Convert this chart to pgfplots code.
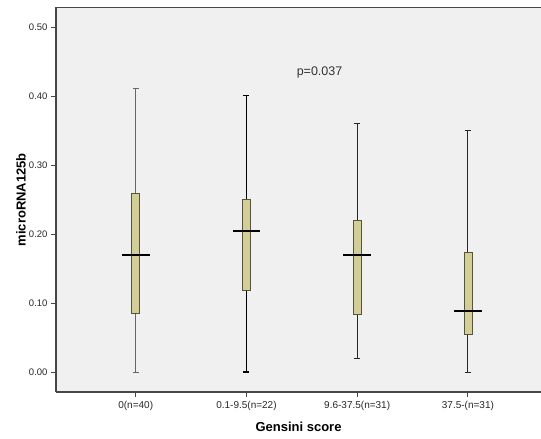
\documentclass[border=0pt]{standalone}
\usepackage{fontspec}
\setmainfont{Liberation Sans}
\usepackage{pgfplots}
\pgfplotsset{compat=1.18}
\usepgfplotslibrary{statistics}

\definecolor{boxfill}{RGB}{211,205,152}
\definecolor{boxedge}{RGB}{85,85,60}
\definecolor{panel}{RGB}{240,240,240}
\definecolor{frame}{RGB}{70,70,70}

\begin{document}
\begin{tikzpicture}[x=1pt,y=1pt]
% page = 541 x 439, axis box sits at (0,0)-(485,384.5)
\useasboundingbox (-56,-47) rectangle (485,392);
\begin{axis}[
    at={(0,0)}, anchor=south west,
    scale only axis,
    width=485pt, height=384.5pt,
    xmin=-0.72, xmax=3.66,
    ymin=-0.029, ymax=0.529,
    axis x line*=bottom, axis y line*=left,
    axis line style={frame,line width=1.2pt,-},
    axis background/.style={fill=panel},
    xtick={0,1,2,3},
    xticklabels={0(n=40),0.1-9.5(n=22),9.6-37.5(n=31),37.5-(n=31)},
    ytick={0,0.1,0.2,0.3,0.4,0.5},
    tick align=outside, tick pos=left,
    major tick length=5pt,
    tick style={frame,line width=1pt},
    yticklabel style={/pgf/number format/.cd,fixed,fixed zerofill,precision=2,/tikz/.cd,font=\fontsize{9.5}{10}\selectfont,text=black!85},
    xticklabel style={font=\fontsize{10}{11}\selectfont,text=black!85,yshift=-1pt},
    /pgf/number format/assume math mode=true,
    xlabel={\textbf{Gensini score}},
    ylabel={\textbf{microRNA125b}},
    xlabel style={font=\fontsize{13}{14}\selectfont,at={(axis description cs:0.5,-0.091)},anchor=center},
    ylabel style={font=\fontsize{13}{14}\selectfont,at={(axis description cs:-0.072,0.5)},anchor=center},
    boxplot/draw direction=y,
    boxplot/box extend=0.072,
    boxplot/whisker extend=0.054,
    boxplot/every box/.style={draw=boxedge,line width=0.7pt,fill=boxfill},
    boxplot/draw/median/.code={%
        \draw[black,line width=2pt]
          (boxplot box cs:\pgfplotsboxplotvalue{median},-1.25) --
          (boxplot box cs:\pgfplotsboxplotvalue{median},2.25);
    },
]
\addplot[boxplot prepared={draw position=0,lower whisker=0.00,lower quartile=0.085,median=0.170,upper quartile=0.260,upper whisker=0.411},
    draw=black!60,line width=0.9pt] coordinates {};
\addplot[boxplot prepared={draw position=1,lower whisker=0.00,lower quartile=0.119,median=0.205,upper quartile=0.250,upper whisker=0.401},
    draw=black,line width=1.4pt] coordinates {};
\addplot[boxplot prepared={draw position=2,lower whisker=0.019,lower quartile=0.084,median=0.170,upper quartile=0.220,upper whisker=0.360},
    draw=black!85,line width=0.9pt] coordinates {};
\addplot[boxplot prepared={draw position=3,lower whisker=0.00,lower quartile=0.054,median=0.089,upper quartile=0.174,upper whisker=0.351},
    draw=black!85,line width=0.9pt] coordinates {};
\draw[frame,line width=1.2pt] (rel axis cs:0,1) -- (rel axis cs:1,1);
\node[font=\fontsize{12.5}{13}\selectfont,text=black!80] at (axis cs:1.66,0.435) {p=0.037};
\end{axis}
\end{tikzpicture}
\end{document}
